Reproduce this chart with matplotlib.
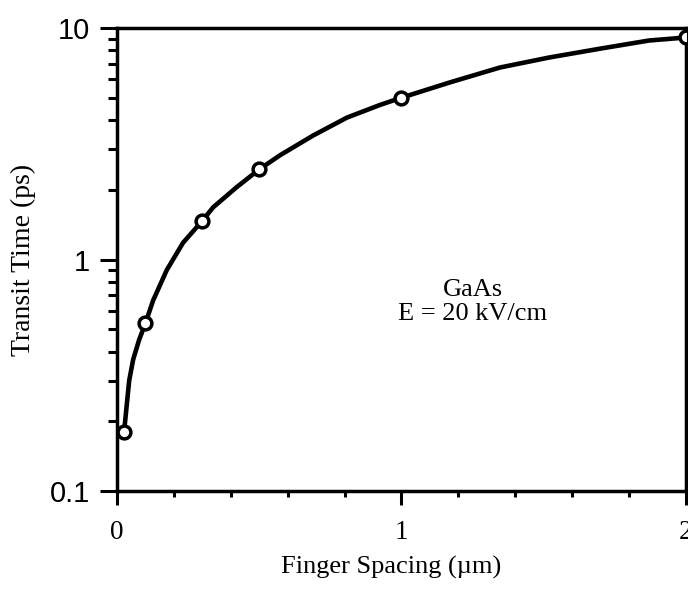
import matplotlib
matplotlib.use("Agg")
import matplotlib.pyplot as plt
from matplotlib.ticker import FixedLocator, NullFormatter

# Measured transit times (markers)
spacing_um = [0.025, 0.1, 0.3, 0.5, 1.0, 2.0]
transit_ps = [0.18, 0.53, 1.47, 2.45, 5.0, 9.1]

# Hand-drawn trend curve through the measurements
curve_x = [0.025, 0.043, 0.057, 0.078, 0.1, 0.127, 0.175, 0.232, 0.3, 0.338,
           0.42, 0.5, 0.573, 0.689, 0.808, 0.924, 1.0, 1.17, 1.346, 1.52,
           1.70, 1.87, 2.0]
curve_y = [0.18, 0.30, 0.37, 0.45, 0.53, 0.665, 0.90, 1.18, 1.47, 1.68,
           2.05, 2.45, 2.82, 3.43, 4.10, 4.65, 5.0, 5.82, 6.75, 7.46,
           8.15, 8.83, 9.1]

x_ticks = [0, 1, 2]
x_tick_labels = ["0", "1", "2"]
y_ticks = [0.1, 1, 10]
y_tick_labels = ["0.1", "1", "10"]

serif = "Liberation Serif"
sans = "Liberation Sans"

fig = plt.figure(figsize=(6.88, 5.91), dpi=100)
ax = fig.add_axes([0.170, 0.1692, 0.827, 0.7834])

ax.plot(curve_x, curve_y, color="black", lw=3.3, solid_joinstyle="round",
        solid_capstyle="round", zorder=2)
ax.plot(spacing_um, transit_ps, linestyle="none", marker="o", ms=9.2,
        mfc="white", mec="black", mew=2.5, zorder=3)

ax.set_yscale("log")
ax.set_xlim(0, 2)
ax.set_ylim(0.1, 10)

ax.xaxis.set_major_locator(FixedLocator(x_ticks))
ax.set_xticklabels(x_tick_labels, fontfamily=serif, fontsize=19.5)
ax.xaxis.set_minor_locator(FixedLocator([0.2, 0.4, 0.6, 0.8, 1.2, 1.4, 1.6, 1.8]))
ax.xaxis.set_minor_formatter(NullFormatter())

ax.yaxis.set_major_locator(FixedLocator(y_ticks))
ax.set_yticklabels(y_tick_labels, fontfamily=sans, fontsize=21)
minor_y = [m * d for d in (0.1, 1) for m in range(2, 10)]
ax.yaxis.set_minor_locator(FixedLocator(minor_y))
ax.yaxis.set_minor_formatter(NullFormatter())

ax.tick_params(axis="x", which="major", direction="out", length=10, width=2.2, pad=11)
ax.tick_params(axis="x", which="minor", direction="out", length=4, width=2.2)
ax.tick_params(axis="y", which="major", direction="out", length=12.5, width=2.2, pad=7)
ax.tick_params(axis="y", which="minor", direction="out", length=6.5, width=2.2)
ax.tick_params(top=False, right=False, which="both")

for side in ("left", "right", "top", "bottom"):
    ax.spines[side].set_linewidth(2.5)

ax.set_xlabel("Finger Spacing (\u00b5m)", fontfamily=serif, fontsize=19)
ax.xaxis.set_label_coords(0.482, -0.14)
ax.set_ylabel("Transit Time (ps)", fontfamily=serif, fontsize=20)
ax.yaxis.set_label_coords(-0.142, 0.5)

ax.text(1.25, 0.408, "GaAs\nE = 20 kV/cm", transform=ax.get_xaxis_transform(),
        ha="center", va="center", fontfamily=serif, fontsize=19,
        linespacing=1.1)

fig.savefig("out.png", dpi=100)
